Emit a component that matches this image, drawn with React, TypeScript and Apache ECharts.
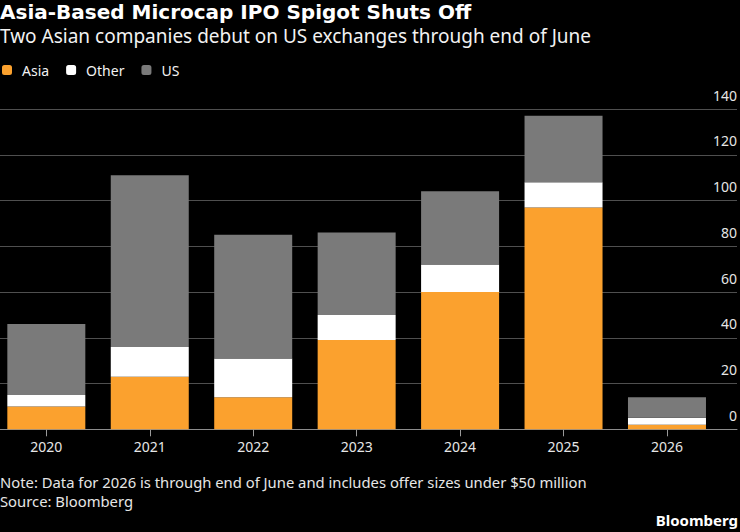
import React, { useEffect, useRef } from "react";
import * as echarts from "echarts";

// Microcap IPO counts on US exchanges by issuer region
const years = ["2020", "2021", "2022", "2023", "2024", "2025", "2026"];
const asia = [10, 23, 14, 39, 60, 97, 2];
const other = [5, 13, 17, 11, 12, 11, 3];
const us = [31, 75, 54, 36, 32, 29, 9];

const yMin = 0;
const yMax = 140;
const yStep = 20;

const ORANGE = "#FBA12E";
const WHITE = "#FFFFFF";
const GRAY = "#7A7A7A";
const FONT = "'Noto Sans', 'DejaVu Sans', sans-serif";
const TITLE_FONT = "'DejaVu Sans', 'Noto Sans', sans-serif";

export default function App() {
  const ref = useRef<HTMLDivElement>(null);

  useEffect(() => {
    document.body.style.margin = "0";
    document.body.style.background = "#000";
    if (!ref.current) return;
    const chart = echarts.init(ref.current, undefined, { renderer: "svg" });

    const plotTop = 109;
    const plotBottom = 532 - 429.3;

    const barSeries = (name: string, data: number[], color: string) => ({
      name,
      type: "bar" as const,
      stack: "total",
      xAxisIndex: 1,
      yAxisIndex: 1,
      barWidth: 78,
      data,
      itemStyle: { color },
      emphasis: { disabled: true },
    });

    chart.setOption({
      animation: false,
      backgroundColor: "#000",
      textStyle: { fontFamily: FONT },
      title: [
        {
          text: "Asia-Based Microcap IPO Spigot Shuts Off",
          left: 0,
          top: 2,
          padding: 0,
          textStyle: { color: "#fff", fontSize: 20, fontWeight: "bold", fontFamily: TITLE_FONT },
        },
        {
          text: "Two Asian companies debut on US exchanges through end of June",
          left: 0,
          top: 26,
          padding: 0,
          textStyle: { color: "#f2f2f2", fontSize: 19, fontWeight: "normal", fontFamily: FONT },
        },
        {
          text: "Note: Data for 2026 is through end of June and includes offer sizes under $50 million",
          left: 0,
          top: 474,
          padding: 0,
          textStyle: { color: "#e6e6e6", fontSize: 14.8, fontWeight: "normal", fontFamily: FONT },
        },
        {
          text: "Source: Bloomberg",
          left: 0,
          top: 493,
          padding: 0,
          textStyle: { color: "#e6e6e6", fontSize: 14.8, fontWeight: "normal", fontFamily: FONT },
        },
        {
          text: "Bloomberg",
          right: 2,
          top: 512,
          padding: 0,
          textStyle: { color: "#fff", fontSize: 15, fontWeight: "bold", fontFamily: FONT },
        },
      ],
      legend: {
        left: 2,
        top: 63,
        padding: 0,
        itemWidth: 10,
        itemHeight: 10,
        itemGap: 17,
        icon: "roundRect",
        selectedMode: false,
        data: ["Asia", "Other", "US"],
        textStyle: { color: "#f2f2f2", fontSize: 14, fontFamily: FONT, padding: [0, 0, 0, 5] },
      },
      grid: [
        { left: 0, right: 3, top: plotTop, bottom: plotBottom, outerBoundsMode: "none" },
        { left: -5.4, right: 21.3, top: plotTop, bottom: plotBottom, outerBoundsMode: "none" },
      ],
      xAxis: [
        {
          gridIndex: 0,
          type: "category",
          data: years,
          axisLine: { show: true, lineStyle: { color: "#8c8c8c", width: 1 } },
          axisTick: { show: false },
          axisLabel: { show: false },
          splitLine: { show: false },
        },
        {
          gridIndex: 1,
          type: "category",
          data: years,
          axisLine: { show: false },
          axisTick: { show: true, alignWithLabel: true, length: 7, lineStyle: { color: "#9a9a9a" } },
          axisLabel: { color: "#e6e6e6", fontSize: 14, margin: 10, fontFamily: FONT },
          splitLine: { show: false },
        },
      ],
      yAxis: [
        {
          gridIndex: 0,
          type: "value",
          position: "right",
          min: yMin,
          max: yMax,
          interval: yStep,
          axisLine: { show: false },
          axisTick: { show: false },
          splitLine: { show: true, lineStyle: { color: "#4f4f4f", width: 1 } },
          axisLabel: {
            inside: true,
            margin: 0,
            color: "#e6e6e6",
            fontSize: 14,
            fontFamily: FONT,
            verticalAlign: "bottom",
            padding: [0, 0, 7, 0],
          },
        },
        {
          gridIndex: 1,
          type: "value",
          min: yMin,
          max: yMax,
          interval: yStep,
          show: false,
          splitLine: { show: false },
        },
      ],
      series: [
        barSeries("Asia", asia, ORANGE),
        barSeries("Other", other, WHITE),
        barSeries("US", us, GRAY),
      ],
    });

    return () => chart.dispose();
  }, []);

  return (
    <div
      ref={ref}
      style={{ position: "absolute", left: 0, top: 0, width: 740, height: 532, background: "#000" }}
    />
  );
}
